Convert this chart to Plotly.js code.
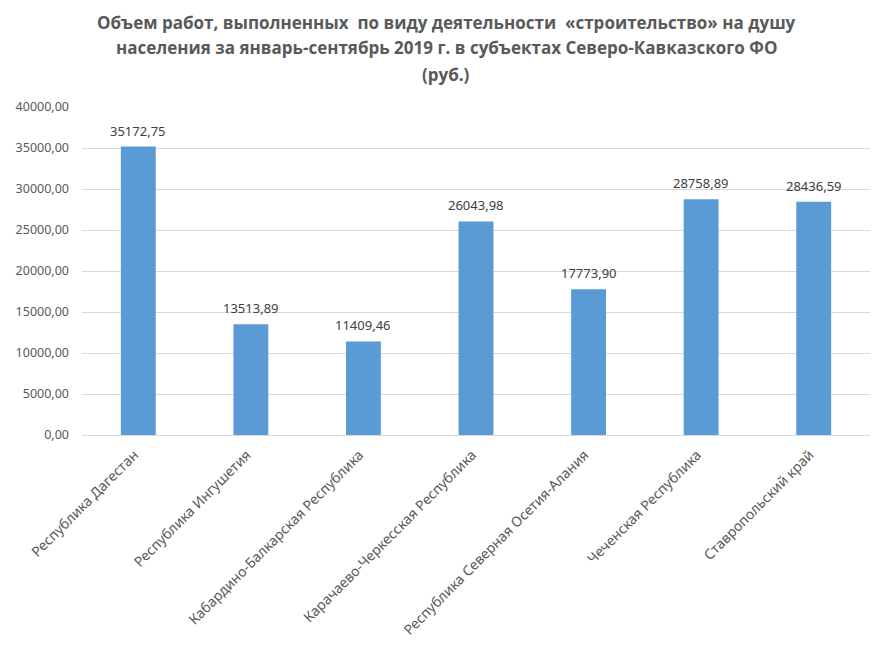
<!DOCTYPE html>
<html><head><meta charset="utf-8">
<script src="https://cdn.plot.ly/plotly-3.0.1.min.js"></script>
<style>html,body{margin:0;padding:0;background:#fff;}#chart{width:883px;height:648px;}</style>
</head><body><div id="chart"></div>
<script>
const regions = ["Республика Дагестан","Республика Ингушетия","Кабардино-Балкарская Республика","Карачаево-Черкесская Республика","Республика Северная Осетия-Алания","Чеченская Республика","Ставропольский край"];
const values = [35172.75,13513.89,11409.46,26043.98,17773.90,28758.89,28436.59];
const yTicks = [0,5000,10000,15000,20000,25000,30000,35000,40000];
const titleLines = ["Объем работ, выполненных  по виду деятельности  «строительство» на душу","населения за январь-сентябрь 2019 г. в субъектах Северо-Кавказского ФО","(руб.)"];

const fmt = v => v.toFixed(2).replace('.', ',');

const trace = {
  type:'bar', x:regions, y:values,
  marker:{color:'#5b9bd5'},
  hoverinfo:'none'
};

const annotations = [];
values.forEach((v,i)=>{
  annotations.push({x:regions[i], y:v, xref:'x', yref:'y', text:fmt(v), showarrow:false,
    yanchor:'middle', xanchor:'center', yshift:16,
    font:{family:'Noto Sans, sans-serif', size:13, color:'#404040'}});
});
const titleY = [1.259, 1.180, 1.0976];
titleLines.forEach((t,i)=>{
  annotations.push({x:0.462, y:titleY[i], xref:'paper', yref:'paper', text:'<b>'+t+'</b>', showarrow:false,
    xanchor:'center', yanchor:'middle',
    font:{family:'Open Sans, sans-serif', size:17, color:'#595959'}});
});

const layout = {
  width:883, height:648,
  margin:{l:82, r:13, t:107, b:213},
  separators:',.',
  paper_bgcolor:'#fff', plot_bgcolor:'#fff',
  bargap:0.69,
  showlegend:false,
  annotations:annotations,
  xaxis:{tickangle:-45, tickfont:{family:'Noto Sans, sans-serif', size:14, color:'#595959'},
    showline:false, ticks:'', automargin:false, ticklabelshift:-4, ticklabelstandoff:8},
  yaxis:{range:[0,40000], tickvals:yTicks, tickformat:'.2f',
    tickfont:{family:'Noto Sans, sans-serif', size:12.5, color:'#595959'},
    gridcolor:'#d9d9d9', gridwidth:1, zeroline:true, zerolinecolor:'#d9d9d9', zerolinewidth:1,
    showline:false, ticks:'', ticklen:0, automargin:false, ticklabelstandoff:12}
};
Plotly.newPlot('chart',[trace],layout,{displayModeBar:false, staticPlot:true});
</script></body></html>
